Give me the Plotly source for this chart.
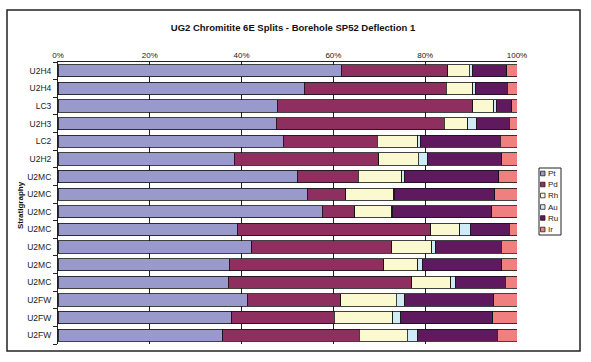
import plotly.graph_objects as go

categories = ["U2H4", "U2H4", "LC3", "U2H3", "LC2", "U2H2", "U2MC", "U2MC", "U2MC",
              "U2MC", "U2MC", "U2MC", "U2MC", "U2FW", "U2FW", "U2FW"]
pt = [61.7, 53.7, 47.8, 47.6, 49.1, 38.4, 52.1, 54.3, 57.6, 39.0, 42.2, 37.3, 37.1, 41.2, 37.8, 35.9]
pd_ = [23.2, 30.9, 42.6, 36.5, 20.5, 31.5, 13.3, 8.4, 7.0, 42.2, 30.5, 33.7, 40.0, 20.4, 22.4, 29.7]
rh = [4.7, 5.8, 4.5, 5.2, 8.8, 8.6, 9.5, 10.4, 8.1, 6.3, 8.7, 7.4, 8.5, 12.1, 12.7, 10.5]
au = [0.8, 0.5, 0.6, 1.8, 0.5, 2.0, 0.6, 0.2, 0.2, 2.3, 0.9, 1.0, 0.9, 1.8, 1.8, 2.2]
ru = [7.4, 7.0, 3.4, 7.2, 17.4, 16.2, 20.5, 21.9, 21.6, 8.5, 14.3, 17.3, 10.9, 19.4, 20.0, 17.4]
ir = [2.2, 2.1, 1.1, 1.7, 3.7, 3.3, 4.0, 4.8, 5.5, 1.7, 3.4, 3.3, 2.6, 5.1, 5.3, 4.3]

series_names = ["Pt", "Pd", "Rh", "Au", "Ru", "Ir"]
series_values = [pt, pd_, rh, au, ru, ir]
series_colors = ["#9999CC", "#8E2F60", "#FBF9CF", "#CFEBF7", "#5F1A5F", "#F08080"]

x_ticks = [0, 20, 40, 60, 80, 100]
title_text = "UG2 Chromitite 6E Splits - Borehole SP52 Deflection 1"
y_title = "Stratigraphy"

W, H = 591, 362
L, R, T, B = 58, 517, 62, 344
FONT = "Liberation Sans, Arial, sans-serif"
INK = "#1a1a1a"


def px(x):
    return (x - L) / (R - L)


def py(y):
    return (B - y) / (B - T)


positions = list(range(len(categories)))

fig = go.Figure()
for name, vals, col in zip(series_names, series_values, series_colors):
    fig.add_trace(go.Bar(
        y=positions, x=vals, name=name, orientation="h",
        marker=dict(color=col, line=dict(color="#111111", width=0.8)),
        width=0.7, showlegend=False,
    ))

shapes = []
annotations = []
# outer frame
shapes.append(dict(type="rect", xref="paper", yref="paper",
                   x0=px(7), x1=px(580), y0=py(351), y1=py(10),
                   line=dict(color="#222222", width=1.5), fillcolor="rgba(0,0,0,0)", layer="below"))
# legend box
shapes.append(dict(type="rect", xref="paper", yref="paper",
                   x0=px(539), x1=px(561), y0=py(235), y1=py(168),
                   line=dict(color="#222222", width=1), fillcolor="white"))
leg_y = [173.5, 184.5, 195.5, 207, 218, 229.5]
for name, col, yy in zip(series_names, series_colors, leg_y):
    shapes.append(dict(type="rect", xref="paper", yref="paper",
                       x0=px(540.5), x1=px(545), y0=py(yy + 2.3), y1=py(yy - 2.3),
                       line=dict(color="#222222", width=0.8), fillcolor=col))
    annotations.append(dict(text=name, xref="paper", yref="paper", x=px(546), y=py(yy),
                            xanchor="left", yanchor="middle", showarrow=False,
                            font=dict(family=FONT, size=8, color=INK)))
annotations.append(dict(text="<b>" + y_title + "</b>", xref="paper", yref="paper",
                        x=px(20), y=py(205), textangle=-90, showarrow=False,
                        xanchor="center", yanchor="middle",
                        font=dict(family=FONT, size=8, color="#111111")))

fig.update_layout(
    width=W, height=H, barmode="stack",
    margin=dict(l=L, r=W - R, t=T, b=H - B, pad=0),
    paper_bgcolor="white", plot_bgcolor="white",
    font=dict(family=FONT, size=8, color=INK),
    title=dict(text="<b>" + title_text + "</b>", x=293 / W, xanchor="center",
               y=1 - 27.5 / H, yanchor="middle",
               font=dict(family=FONT, size=9.5, color="#111111")),
    xaxis=dict(side="top", range=[0, 100], tickvals=x_ticks,
               ticktext=[f"{v}%" for v in x_ticks], color=INK,
               showgrid=True, gridcolor="#222222", gridwidth=1,
               showline=True, linecolor="#222222", linewidth=1,
               ticks="", zeroline=False,
               tickfont=dict(family=FONT, size=8, color=INK)),
    yaxis=dict(range=[len(categories) - 0.5, -0.5], tickvals=positions, ticktext=categories,
               color=INK,
               showgrid=False, zeroline=False, showline=True, linecolor="#222222", linewidth=1,
               ticks="", ticklabelstandoff=4,
               minor=dict(tickvals=[p - 0.5 for p in positions] + [len(categories) - 0.5],
                          ticks="outside", ticklen=4, tickcolor="#222222", showgrid=False),
               tickfont=dict(family=FONT, size=8.5, color=INK)),
    shapes=shapes, annotations=annotations,
    bargap=0.3,
)

fig.write_html("out.html", config={"displayModeBar": False},
               post_script="document.body.style.margin='0';document.body.style.overflow='hidden';")
